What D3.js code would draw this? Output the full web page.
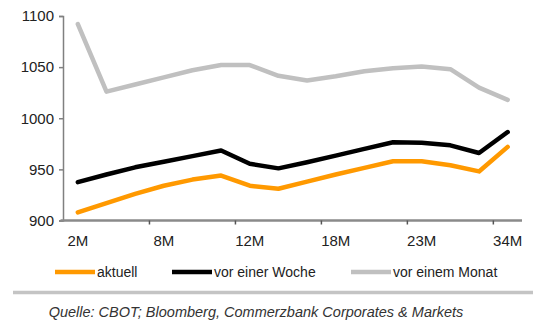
<!DOCTYPE html>
<html>
<head>
<meta charset="utf-8">
<script src="https://cdn.jsdelivr.net/npm/d3@7"></script>
<style>
  html, body { margin: 0; padding: 0; background: #fff; }
  svg { display: block; font-family: "Liberation Sans", Arial, sans-serif; }
</style>
</head>
<body>
<svg id="chart" width="533" height="320"></svg>
<script>
// Contract maturities along the curve
const categories = ["2M", "4M", "6M", "8M", "9M", "11M", "12M", "14M", "16M", "18M", "20M", "21M", "23M", "26M", "30M", "34M"];
const labelledCategories = ["2M", "8M", "12M", "18M", "23M", "34M"];
const tickCategories = ["8M", "12M", "18M", "23M", "34M"];
const yTicks = [900, 950, 1000, 1050, 1100];

// Futures curve: today, one week ago, one month ago
const aktuell       = [908, 917, 926, 934, 940, 944, 934, 931, 938, 945, 951.5, 958, 958, 954, 948, 972];
const vorEinerWoche = [937.5, 945, 952, 957.5, 963, 968.5, 955.5, 951, 957, 963.5, 970, 976.5, 976, 973.5, 966, 986.5];
const vorEinemMonat = [1092, 1026, 1033, 1040, 1047, 1052, 1052, 1041.5, 1037, 1041, 1046, 1049, 1050.5, 1048, 1030, 1018];

const seriesNames = ["aktuell", "vor einer Woche", "vor einem Monat"];
const seriesColors = ["#ff9900", "#000000", "#c0c0c0"];
const seriesValues = [aktuell, vorEinerWoche, vorEinemMonat];

const svg = d3.select("#chart");
const plot = { left: 63.5, right: 522, top: 16, bottom: 220.5 };

const x = d3.scaleBand().domain(categories).range([plot.left, plot.right]);
const y = d3.scaleLinear().domain([900, 1100]).range([plot.bottom, plot.top]);

// Y axis
const yAxis = svg.append("g")
  .attr("transform", `translate(${plot.left - 0.5},0)`)
  .call(d3.axisLeft(y).tickValues(yTicks).tickSize(4).tickPadding(5).tickFormat(d3.format("d")));
yAxis.select(".domain").attr("stroke", "#808080").attr("stroke-width", 1.5);
yAxis.selectAll(".tick line").attr("stroke", "#808080").attr("stroke-width", 1.5);
yAxis.selectAll(".tick text")
  .attr("fill", "#222").attr("font-size", "15px")
  .attr("font-family", "'Liberation Sans', Arial, sans-serif");

// Series lines
const line = d3.line()
  .x((d, i) => x(categories[i]) + x.bandwidth() / 2)
  .y(d => y(d));

[2, 1, 0].forEach(k => {
  svg.append("path")
    .datum(seriesValues[k])
    .attr("d", line)
    .attr("fill", "none")
    .attr("stroke", seriesColors[k])
    .attr("stroke-width", 4.5)
    .attr("stroke-linejoin", "round")
    .attr("stroke-linecap", "round");
});

// X axis: labels every third maturity, tick marks between groups
const xAxis = svg.append("g")
  .attr("transform", `translate(0,${plot.bottom})`)
  .call(d3.axisBottom(x).tickValues(labelledCategories).tickSize(0).tickPadding(15));
xAxis.select(".domain").remove();
xAxis.selectAll(".tick text")
  .attr("fill", "#222").attr("font-size", "15px")
  .attr("font-family", "'Liberation Sans', Arial, sans-serif");

svg.append("line")
  .attr("x1", plot.left - 3).attr("x2", plot.right)
  .attr("y1", plot.bottom).attr("y2", plot.bottom)
  .attr("stroke", "#8a8a8a").attr("stroke-width", 2.5);

svg.append("g").selectAll("line")
  .data(tickCategories)
  .join("line")
  .attr("x1", d => x(d)).attr("x2", d => x(d))
  .attr("y1", plot.bottom).attr("y2", plot.bottom + 4)
  .attr("stroke", "#555").attr("stroke-width", 1.5);

// Legend
const legendX = [55, 172, 351];
const legend = svg.append("g").attr("transform", "translate(0,272)");
seriesNames.forEach((name, k) => {
  const g = legend.append("g").attr("transform", `translate(${legendX[k]},0)`);
  g.append("line")
    .attr("x1", 0).attr("x2", 40).attr("y1", 0).attr("y2", 0)
    .attr("stroke", seriesColors[k]).attr("stroke-width", 4.5);
  g.append("text")
    .attr("x", 42).attr("y", 0).attr("dy", "0.35em")
    .attr("font-size", "14px").attr("fill", "#222")
    .text(name);
});

// Separator and source note
svg.append("line")
  .attr("x1", 13).attr("x2", 533).attr("y1", 292.5).attr("y2", 292.5)
  .attr("stroke", "#c4c4c4").attr("stroke-width", 3.5);

svg.append("text")
  .attr("x", 256).attr("y", 311.5).attr("dy", "0.35em")
  .attr("text-anchor", "middle")
  .attr("font-size", "14.5px").attr("font-style", "italic").attr("fill", "#333")
  .text("Quelle: CBOT; Bloomberg, Commerzbank Corporates & Markets");
</script>
</body>
</html>
